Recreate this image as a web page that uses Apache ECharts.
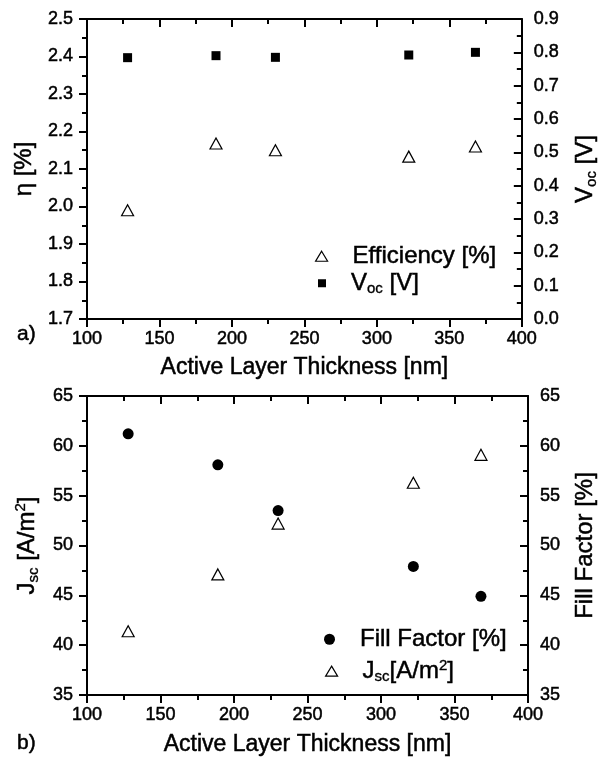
<!DOCTYPE html>
<html>
<head>
<meta charset="utf-8">
<script src="https://cdn.jsdelivr.net/npm/echarts@6/dist/echarts.min.js"></script>
<style>
html,body{margin:0;padding:0;background:#fff;}
#c{width:608px;height:760px;}
</style>
</head>
<body>
<div id="c"></div>
<script>
// ---- data ----
const thickness = [128, 189, 230, 322, 368];
const efficiency = [1.99, 2.168, 2.15, 2.133, 2.16];
const voc = [0.784, 0.790, 0.785, 0.792, 0.800];
const fillFactor = [61.2, 58.1, 53.5, 47.9, 44.9];
const jsc = [41.4, 47.1, 52.2, 56.3, 59.1];

const xTitle = 'Active Layer Thickness [nm]';
const FONT = '"Liberation Sans", Arial, sans-serif';

function pairs(xs, ys){ return xs.map((x,i)=>[x, ys[i]]); }

const chart = echarts.init(document.getElementById('c'), null, {renderer:'canvas'});

const lblSize = 18, ttlSize = 23, yTtlSize = 24, legSize = 24, subSize = 15;
const LW = 2;
const heavy = {textBorderColor:'#000', textBorderWidth:0.5};
function ts(size, extra){ return Object.assign({color:'#000', fontSize:size, fontFamily:FONT}, heavy, extra||{}); }
const axLine = {show:true, lineStyle:{color:'#000', width:LW}};
function tick(inside){ return {show:true, inside:inside, length:8, lineStyle:{color:'#000',width:LW}}; }
function minor(){ return {show:true, splitNumber:2, length:5, lineStyle:{color:'#000',width:LW}}; }
function xAxisBottom(gi, gap){
  return {gridIndex:gi, type:'value', position:'bottom', min:100, max:400, interval:50,
    axisLine:axLine, axisTick:tick(false), minorTick:minor(),
    splitLine:{show:false}, axisLabel:ts(lblSize, {margin:11}),
    name:xTitle, nameLocation:'middle', nameGap:gap, nameTextStyle:ts(ttlSize)};
}
function xAxisTop(gi){
  return {gridIndex:gi, type:'value', position:'top', min:100, max:400, interval:50,
    axisLine:axLine, axisTick:tick(true), minorTick:minor(),
    splitLine:{show:false}, axisLabel:{show:false}};
}
const subRich = {
  a:ts(yTtlSize, {lineHeight:28}),
  s:ts(subSize, {lineHeight:12, verticalAlign:'bottom', textBorderWidth:0.35}),
  p:ts(subSize, {lineHeight:14, verticalAlign:'top', textBorderWidth:0.35})
};
function yAxis(gi, pos, min, max, interval, name, gap, fmt, inside, margin){
  return {gridIndex:gi, type:'value', position:pos, min:min, max:max, interval:interval,
    axisLine:axLine, axisTick:tick(inside), minorTick:minor(),
    splitLine:{show:false},
    axisLabel:ts(lblSize, {margin:margin, formatter:fmt}),
    name:name, nameLocation:'middle', nameGap:gap, nameRotate:90,
    nameTextStyle:ts(yTtlSize, {rich:subRich})};
}

const triStyle = {color:'#fff', borderColor:'#000', borderWidth:1.2, opacity:1};
const fillStyle = {color:'#000', opacity:1};
const legendRich = {
  g:{width:20},
  a:ts(legSize, {lineHeight:26}),
  s:ts(subSize, {lineHeight:12, verticalAlign:'bottom', textBorderWidth:0.35}),
  p:ts(subSize, {lineHeight:14, verticalAlign:'top', textBorderWidth:0.35})
};
const legendFmt = {
  'Efficiency [%]':'{g|}{a|Efficiency [%]}',
  'Voc':'{g|}{a|V}{s|oc}{a| [V]}',
  'Fill Factor [%]':'{g|}{a|Fill Factor [%]}',
  'Jsc':'{g|}{a|J}{s|sc}{a|[A/m}{p|2}{a|]}'
};
function leg(name, icon, left, top, w, h, style){
  return {data:[{name:name, icon:icon, itemStyle:style}], orient:'vertical', left:left, top:top,
    itemWidth:w, itemHeight:h, padding:0, formatter:n=>legendFmt[n], textStyle:{rich:legendRich}};
}

const option = {
  backgroundColor:'#fff',
  animation:false,
  title:[
    {text:'a)', left:17, top:324, padding:0, textStyle:ts(21, {fontWeight:'normal'})},
    {text:'b)', left:17, top:733, padding:0, textStyle:ts(21, {fontWeight:'normal'})}
  ],
  grid:[
    {left:87, right:80, top:19, height:300},
    {left:87, right:80, top:396, height:299}
  ],
  xAxis:[xAxisBottom(0,37), xAxisTop(0), xAxisBottom(1,38), xAxisTop(1)],
  yAxis:[
    yAxis(0,'left',1.7,2.5,0.1,'{a|η [%]}',43,v=>v.toFixed(1),false,14),
    yAxis(0,'right',0,0.9,0.1,'{a|V}{s|oc}{a| [V]}',50,v=>v.toFixed(1),true,12),
    yAxis(1,'left',35,65,5,'{a|J}{s|sc}{a| [A/m}{p|2}{a|]}',42,v=>String(v),false,14),
    yAxis(1,'right',35,65,5,'{a|Fill Factor [%]}',43,v=>String(v),true,12)
  ],
  legend:[
    leg('Efficiency [%]','triangle',315,244,12,10,{color:'#fff',borderColor:'#000',borderWidth:1.2}),
    leg('Voc','rect',318,271,8,8,{color:'#000'}),
    leg('Fill Factor [%]','circle',324,627,11,11,{color:'#000'}),
    leg('Jsc','triangle',325,658,12,10,{color:'#fff',borderColor:'#000',borderWidth:1.2})
  ],
  series:[
    {name:'Efficiency [%]', type:'scatter', xAxisIndex:0, yAxisIndex:0, symbol:'triangle', symbolSize:[12,11],
     itemStyle:triStyle, data:pairs(thickness, efficiency)},
    {name:'Voc', type:'scatter', xAxisIndex:0, yAxisIndex:1, symbol:'rect', symbolSize:9,
     itemStyle:fillStyle, data:pairs(thickness, voc)},
    {name:'Fill Factor [%]', type:'scatter', xAxisIndex:2, yAxisIndex:3, symbol:'circle', symbolSize:11,
     itemStyle:fillStyle, data:pairs(thickness, fillFactor)},
    {name:'Jsc', type:'scatter', xAxisIndex:2, yAxisIndex:2, symbol:'triangle', symbolSize:[12,11],
     itemStyle:triStyle, data:pairs(thickness, jsc)}
  ]
};
chart.setOption(option);
</script>
</body>
</html>
